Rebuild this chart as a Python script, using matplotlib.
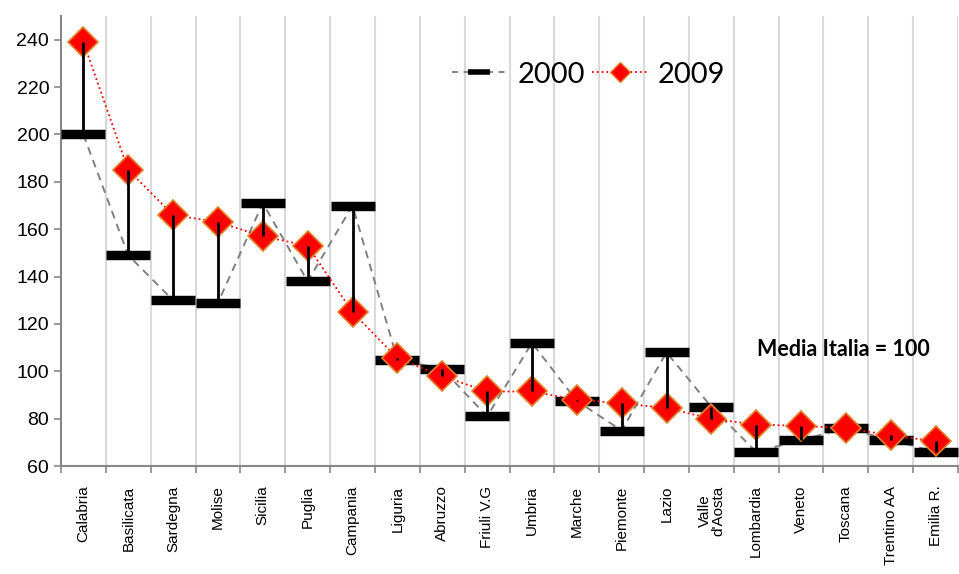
import numpy as np
import matplotlib
matplotlib.use('Agg')
import matplotlib.pyplot as plt
from matplotlib.lines import Line2D

regioni = ['Calabria', 'Basilicata', 'Sardegna', 'Molise', 'Sicilia', 'Puglia',
           'Campania', 'Liguria', 'Abruzzo', 'Friuli V.G', 'Umbria', 'Marche',
           'Piemonte', 'Lazio', "Valle\nd'Aosta", 'Lombardia', 'Veneto', 'Toscana',
           'Trentino AA', 'Emilia R.']
val_2000 = [200, 149, 130, 129, 171, 138, 170, 105, 101, 81, 112, 87.5,
            75, 108, 85, 66, 71, 76, 71, 66]
val_2009 = [239, 185, 166, 163, 157, 153, 125, 105.5, 98, 91.5, 91.5, 88,
            86.5, 84.5, 80, 77.5, 77, 76, 73, 70.5]

x = np.arange(len(regioni))

fig = plt.figure(figsize=(9.59, 5.74), dpi=100)
ax = fig.add_axes([0.0636, 0.188, 0.9354, 0.784])

# serie 2000: barrette nere collegate da tratteggio grigio
ax.plot(x, val_2000, color='#808080', ls=(0, (4, 3)), lw=1.4, zorder=2)
ax.plot(x, val_2000, ls='none', marker='_', ms=32, mew=6.8, color='black', zorder=3)

# serie 2009: rombi rossi con puntinato rosso
ax.plot(x, val_2009, color='red', ls=':', lw=1.3, zorder=4)
ax.plot(x, val_2009, ls='none', marker='D', ms=15, mfc='red', mec='#E0822A',
        mew=1.2, zorder=5)

# linee max-min tra i due anni
ax.vlines(x, val_2000, val_2009, color='black', lw=2, zorder=6)

ax.set_xlim(-0.5, len(regioni) - 0.5)
ax.set_ylim(60, 250)
ax.set_yticks(np.arange(60, 241, 20))
ax.set_xticks(x)
ax.set_xticklabels(regioni, rotation=90, fontsize=11, family='Liberation Sans',
                   linespacing=0.95)
ax.tick_params(axis='x', length=0, pad=14)
ax.set_xticks(np.arange(-0.5, len(regioni)), minor=True)
ax.tick_params(axis='x', which='minor', length=5, color='#888888', width=1.2)
ax.tick_params(axis='y', length=5, color='#888888', width=1.2, labelsize=14)
for t in ax.get_yticklabels():
    t.set_family('Liberation Sans')
ax.grid(axis='x', which='minor', color='#d9d9d9', lw=1.5)
ax.set_axisbelow(True)

for s in ['top', 'right']:
    ax.spines[s].set_visible(False)
for s in ['left', 'bottom']:
    ax.spines[s].set_color('#888888')
    ax.spines[s].set_linewidth(1.5)

ax.text(0.776, 0.258, 'Media Italia = 100', transform=ax.transAxes,
        fontsize=15.5, fontweight='bold', family='Lato', ha='left', va='center')

h2000 = Line2D([], [], color='#808080', ls=(0, (3, 3)), lw=1.4,
               marker='_', ms=16, mew=4, mec='black')
h2009 = Line2D([], [], color='red', ls=':', lw=1.3, marker='D', ms=10,
               mfc='red', mec='#E0822A', mew=1)
ax.legend([h2000, h2009], ['2000', '2009'], loc='center',
          bbox_to_anchor=(0.588, 0.87), ncol=2, frameon=False,
          prop={'family': 'Lato', 'size': 21}, handlelength=1.9,
          handletextpad=0.35, columnspacing=0.25)

fig.savefig('out.png', dpi=100)
